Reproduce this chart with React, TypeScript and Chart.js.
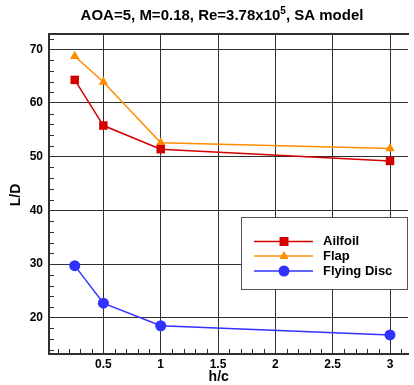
import React, { useEffect, useRef } from "react";
import { Chart, registerables } from "chart.js";
Chart.register(...registerables);

const hOverC = [0.25, 0.5, 1, 3];
const ailfoilLD = [64.3, 55.8, 51.4, 49.2];
const flapLD = [68.7, 63.9, 52.6, 51.5];
const flyingDiscLD = [29.7, 22.7, 18.5, 16.8];
const seriesNames = ["Ailfoil", "Flap", "Flying Disc"];
const xTicks = [0.5, 1, 1.5, 2, 2.5, 3];
const yTicks = [20, 30, 40, 50, 60, 70];
const titleMain = "AOA=5, M=0.18, Re=3.78x10";
const titleSup = "5";
const titleEnd = ", SA model";
const xTitle = "h/c";
const yTitle = "L/D";

const FONT = "'Liberation Sans', Arial, sans-serif";
const RED = "#d40000";
const ORANGE = "#ff8c00";
const BLUE = "#3232ff";
const AXIS = "#303030";

const decorPlugin = {
  id: "decor",
  afterDraw(chart: any) {
    const ctx = chart.ctx;
    const a = chart.chartArea;
    const xs = chart.scales.x;
    const ys = chart.scales.y;
    ctx.save();
    // top border
    ctx.strokeStyle = AXIS;
    ctx.lineWidth = 2;
    ctx.beginPath();
    ctx.moveTo(a.left - 1, a.top);
    ctx.lineTo(a.right + 1, a.top);
    ctx.stroke();
    // minor ticks
    ctx.lineWidth = 1;
    ctx.beginPath();
    for (let i = 1; i <= 31; i++) {
      if (i % 5 === 0) continue;
      const px = Math.round(xs.getPixelForValue(i / 10)) + 0.5;
      if (px < a.left || px > a.right) continue;
      ctx.moveTo(px, a.bottom);
      ctx.lineTo(px, a.bottom - 5);
    }
    for (let v = 14; v <= 72; v += 2) {
      if (v % 10 === 0) continue;
      const py = Math.round(ys.getPixelForValue(v)) + 0.5;
      ctx.moveTo(a.left, py);
      ctx.lineTo(a.left + 5, py);
    }
    ctx.stroke();

    ctx.fillStyle = "#000";
    // title with superscript
    const mainFont = `bold 15px ${FONT}`;
    const supFont = `bold 10px ${FONT}`;
    ctx.font = mainFont;
    const w1 = ctx.measureText(titleMain).width;
    const w3 = ctx.measureText(titleEnd).width;
    ctx.font = supFont;
    const w2 = ctx.measureText(titleSup).width;
    const total = w1 + w2 + w3;
    let tx = 222 - total / 2;
    const ty = 20;
    ctx.textBaseline = "alphabetic";
    ctx.textAlign = "left";
    ctx.font = mainFont;
    ctx.fillText(titleMain, tx, ty);
    tx += w1;
    ctx.font = supFont;
    ctx.fillText(titleSup, tx, ty - 6);
    tx += w2;
    ctx.font = mainFont;
    ctx.fillText(titleEnd, tx, ty);

    // axis titles
    ctx.font = `bold 14px ${FONT}`;
    ctx.textAlign = "center";
    ctx.textBaseline = "middle";
    ctx.fillText(xTitle, (xs.getPixelForValue(1.5) + xs.getPixelForValue(2)) / 2 - 28, 377);
    ctx.save();
    ctx.translate(16, 195);
    ctx.rotate(-Math.PI / 2);
    ctx.fillText(yTitle, 0, 0);
    ctx.restore();

    // legend
    const lx = 241, ly = 217, lw = 166, lh = 72;
    ctx.fillStyle = "#fff";
    ctx.fillRect(lx, ly, lw, lh);
    ctx.strokeStyle = "#555";
    ctx.lineWidth = 1;
    ctx.strokeRect(lx + 0.5, ly + 0.5, lw, lh);
    const rowsY = [241.5, 256, 271];
    chart.data.datasets.forEach((ds: any, i: number) => {
      const y = rowsY[i];
      ctx.strokeStyle = ds.borderColor;
      ctx.lineWidth = 1.5;
      ctx.beginPath();
      ctx.moveTo(254, y);
      ctx.lineTo(313, y);
      ctx.stroke();
      ctx.fillStyle = ds.pointBackgroundColor;
      const cx = 284;
      if (ds.pointStyle === "rect") {
        ctx.fillRect(cx - 4.5, y - 4.5, 9, 9);
      } else if (ds.pointStyle === "triangle") {
        ctx.beginPath();
        ctx.moveTo(cx, y - 5);
        ctx.lineTo(cx + 4.6, y + 3);
        ctx.lineTo(cx - 4.6, y + 3);
        ctx.closePath();
        ctx.fill();
      } else {
        ctx.beginPath();
        ctx.arc(cx, y, 5.5, 0, Math.PI * 2);
        ctx.fill();
      }
      ctx.fillStyle = "#000";
      ctx.font = `bold 13px ${FONT}`;
      ctx.textAlign = "left";
      ctx.textBaseline = "middle";
      ctx.fillText(ds.label, 323, y);
    });
    ctx.restore();
  },
};

export default function App() {
  const ref = useRef<HTMLCanvasElement | null>(null);
  useEffect(() => {
    if (!ref.current) return;
    const mk = (vals: number[]) => hOverC.map((x, i) => ({ x, y: vals[i] }));
    const chart = new Chart(ref.current, {
      type: "line",
      data: {
        datasets: [
          {
            label: seriesNames[0],
            data: mk(ailfoilLD),
            borderColor: RED,
            backgroundColor: RED,
            pointBackgroundColor: RED,
            pointBorderColor: RED,
            pointStyle: "rect",
            pointRadius: 6,
            borderWidth: 1.5,
            pointBorderWidth: 0,
          },
          {
            label: seriesNames[1],
            data: mk(flapLD),
            borderColor: ORANGE,
            backgroundColor: ORANGE,
            pointBackgroundColor: ORANGE,
            pointBorderColor: ORANGE,
            pointStyle: "triangle",
            pointRadius: 5.5,
            borderWidth: 1.5,
            pointBorderWidth: 0,
          },
          {
            label: seriesNames[2],
            data: mk(flyingDiscLD),
            borderColor: BLUE,
            backgroundColor: BLUE,
            pointBackgroundColor: BLUE,
            pointBorderColor: BLUE,
            pointStyle: "circle",
            pointRadius: 5.5,
            borderWidth: 1.5,
            pointBorderWidth: 0,
          },
        ] as any,
      },
      options: {
        animation: false,
        responsive: true,
        maintainAspectRatio: false,
        devicePixelRatio: 1,
        layout: { padding: { top: 34, left: 0, right: 0, bottom: 0 } },
        plugins: { legend: { display: false }, title: { display: false }, tooltip: { enabled: false } },
        scales: {
          x: {
            type: "linear",
            min: 0.0256,
            max: 3.157,
            afterBuildTicks: (s: any) => {
              s.ticks = xTicks.map((v) => ({ value: v }));
            },
            afterFit: (s: any) => {
              s.height = 31;
            },
            ticks: {
              color: "#000",
              font: { family: FONT, size: 12, weight: "bold" },
              padding: 3,
              maxRotation: 0,
              callback: (v: any) => String(v),
            },
            grid: { color: AXIS, lineWidth: 1, drawTicks: false },
            border: { display: true, color: AXIS, width: 2 },
          },
          y: {
            type: "linear",
            min: 13.24,
            max: 72.85,
            afterBuildTicks: (s: any) => {
              s.ticks = yTicks.map((v) => ({ value: v }));
            },
            afterFit: (s: any) => {
              s.width = 49;
            },
            ticks: {
              color: "#000",
              font: { family: FONT, size: 12, weight: "bold" },
              padding: 6,
              callback: (v: any) => String(v),
            },
            grid: { color: AXIS, lineWidth: 1, drawTicks: false },
            border: { display: true, color: AXIS, width: 2 },
          },
        },
      } as any,
      plugins: [decorPlugin],
    });
    return () => chart.destroy();
  }, []);
  return (
    <div style={{ position: "fixed", left: 0, top: 0, width: 414, height: 385, background: "#fff" }}>
      <canvas ref={ref} />
    </div>
  );
}
